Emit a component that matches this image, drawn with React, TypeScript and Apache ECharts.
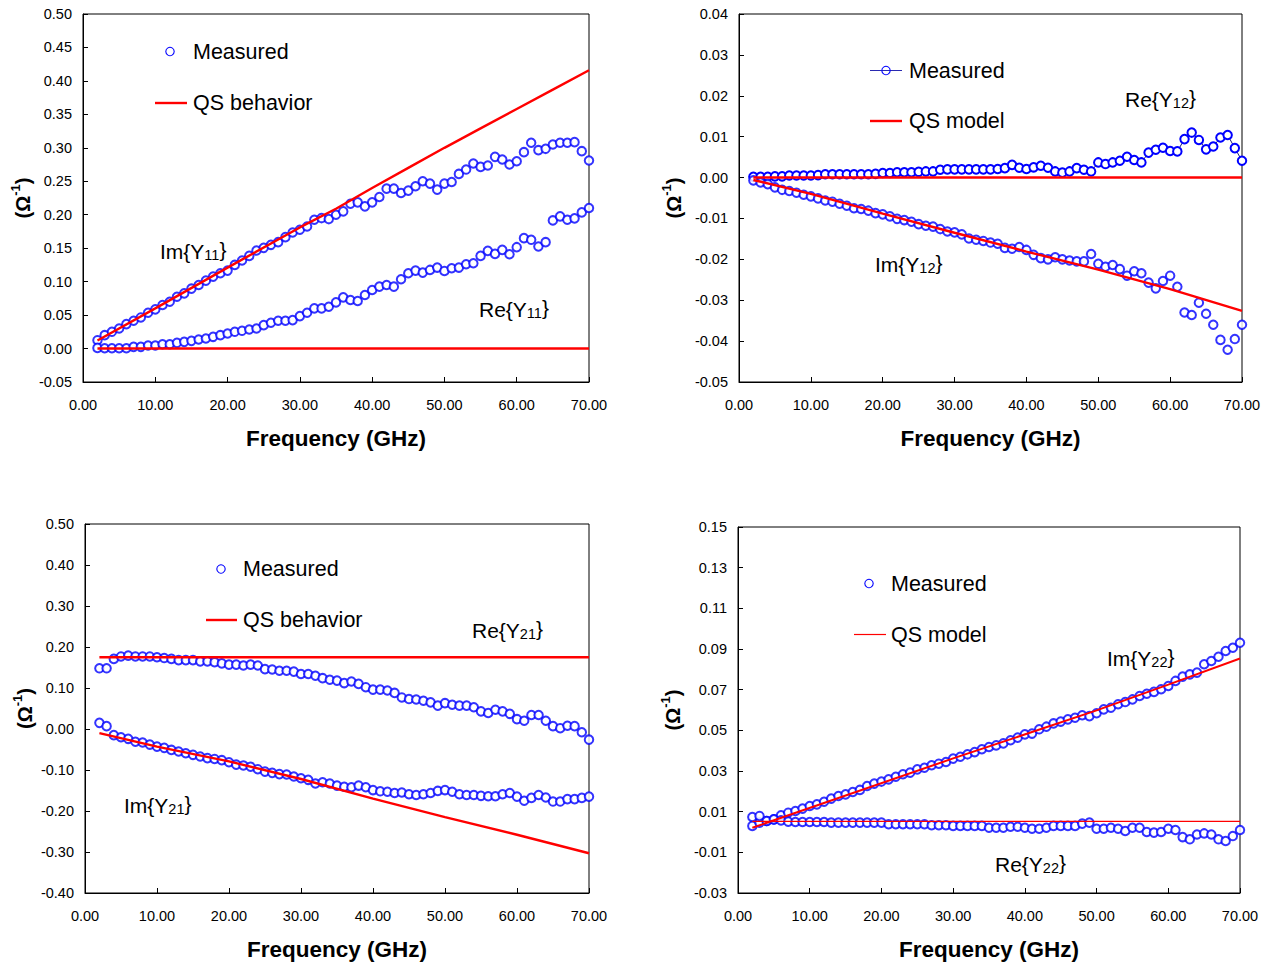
import React, { useEffect, useRef } from "react";
import * as echarts from "echarts";

const freq = [2,3,4,5,6,7,8,9,10,11,12,13,14,15,16,17,18,19,20,21,22,23,24,25,26,27,28,29,30,31,32,33,34,35,36,37,38,39,40,41,42,43,44,45,46,47,48,49,50,51,52,53,54,55,56,57,58,59,60,61,62,63,64,65,66,67,68,69,70];

// Y11
const im11 = [0.0125,0.020,0.025,0.030,0.0365,0.0415,0.0465,0.0535,0.0585,0.065,0.070,0.0775,0.0825,0.0895,0.095,0.1015,0.1075,0.1125,0.1165,0.125,0.1315,0.1385,0.1465,0.1505,0.155,0.159,0.1665,0.1735,0.1775,0.1825,0.1925,0.195,0.1935,0.200,0.205,0.2165,0.2185,0.2125,0.2185,0.2265,0.239,0.239,0.2325,0.236,0.2425,0.250,0.2465,0.2375,0.2465,0.249,0.261,0.2675,0.2765,0.2715,0.2735,0.2865,0.2825,0.275,0.280,0.2935,0.3075,0.2965,0.2985,0.305,0.3075,0.3075,0.3085,0.295,0.281];
const re11 = [0.001,0.0005,0.0005,0.0005,0.0005,0.0025,0.0025,0.0045,0.0045,0.0065,0.0065,0.0085,0.010,0.0115,0.0135,0.015,0.0175,0.020,0.0225,0.025,0.0265,0.0285,0.030,0.035,0.0385,0.0415,0.0415,0.0425,0.0485,0.0535,0.060,0.060,0.0625,0.069,0.0765,0.0725,0.071,0.080,0.0875,0.0925,0.095,0.0925,0.1035,0.1125,0.1165,0.1135,0.1175,0.121,0.116,0.120,0.121,0.126,0.1275,0.1385,0.146,0.1415,0.1475,0.141,0.1515,0.165,0.1625,0.1525,0.159,0.1915,0.1975,0.1925,0.1945,0.2035,0.210];
const qs11ImF = [2,10,20,30,35,40,45,50,55,60,65,70];
const qs11Im = [0.012,0.060,0.121,0.181,0.209,0.240,0.270,0.300,0.329,0.358,0.387,0.416];
const qs11ReF = [2,70];
const qs11Re = [0,0];

// Y12
const re12 = [0.0002,0.0002,0.0002,0.0003,0.0003,0.0005,0.0005,0.0005,0.0005,0.0006,0.0008,0.0008,0.0008,0.0008,0.0008,0.0008,0.0008,0.0009,0.0011,0.0011,0.0013,0.0013,0.0013,0.0014,0.0015,0.0015,0.0019,0.0020,0.0020,0.0020,0.0020,0.0020,0.0020,0.0020,0.0021,0.0023,0.0031,0.0024,0.0021,0.0025,0.0029,0.0024,0.0015,0.0012,0.0015,0.0023,0.0019,0.0015,0.0037,0.0033,0.0037,0.0041,0.0051,0.0043,0.0037,0.0061,0.0068,0.0073,0.0065,0.0064,0.0094,0.0110,0.0092,0.0069,0.0076,0.0098,0.0104,0.0072,0.0041];
const im12 = [-0.0007,-0.0012,-0.0016,-0.0024,-0.0030,-0.0033,-0.0037,-0.0042,-0.0046,-0.0051,-0.0056,-0.0059,-0.0064,-0.0069,-0.0075,-0.0077,-0.0081,-0.0087,-0.0090,-0.0095,-0.0101,-0.0104,-0.0108,-0.0114,-0.0118,-0.0120,-0.0126,-0.0132,-0.0134,-0.0139,-0.0149,-0.0152,-0.0155,-0.0159,-0.0162,-0.0172,-0.0174,-0.0170,-0.0177,-0.0189,-0.0197,-0.0200,-0.0195,-0.0200,-0.0203,-0.0205,-0.0205,-0.0187,-0.0211,-0.0218,-0.0214,-0.0224,-0.0240,-0.0229,-0.0234,-0.0257,-0.0271,-0.0253,-0.0240,-0.0267,-0.0330,-0.0336,-0.0306,-0.0333,-0.0360,-0.0397,-0.0421,-0.0395,-0.0360];
const qs12ImF = [2,10,20,30,40,50,60,70];
const qs12Im = [-0.0006,-0.0040,-0.0088,-0.0135,-0.0181,-0.0225,-0.0273,-0.0326];
const qs12ReF = [2,70];
const qs12Re = [0,0];

// Y21
const re21 = [0.148,0.148,0.171,0.177,0.179,0.177,0.177,0.177,0.175,0.173,0.171,0.168,0.168,0.168,0.165,0.165,0.163,0.160,0.157,0.157,0.155,0.157,0.155,0.146,0.145,0.142,0.142,0.140,0.134,0.134,0.130,0.124,0.120,0.118,0.112,0.116,0.110,0.102,0.096,0.096,0.094,0.088,0.077,0.073,0.072,0.069,0.065,0.057,0.063,0.059,0.057,0.057,0.053,0.043,0.039,0.047,0.043,0.037,0.024,0.020,0.034,0.034,0.020,0.007,0.002,0.008,0.007,-0.008,-0.026];
const im21 = [0.015,0.007,-0.015,-0.020,-0.024,-0.031,-0.033,-0.038,-0.043,-0.046,-0.051,-0.055,-0.059,-0.063,-0.067,-0.071,-0.073,-0.076,-0.081,-0.087,-0.089,-0.092,-0.098,-0.104,-0.107,-0.110,-0.111,-0.116,-0.120,-0.124,-0.133,-0.130,-0.133,-0.138,-0.141,-0.142,-0.138,-0.142,-0.149,-0.152,-0.153,-0.156,-0.155,-0.159,-0.161,-0.159,-0.156,-0.151,-0.149,-0.153,-0.159,-0.161,-0.161,-0.163,-0.164,-0.164,-0.159,-0.156,-0.165,-0.175,-0.168,-0.161,-0.167,-0.177,-0.177,-0.171,-0.171,-0.168,-0.165];
const qs21ImF = [2,10,20,30,40,50,60,70];
const qs21Im = [-0.010,-0.043,-0.079,-0.122,-0.170,-0.215,-0.258,-0.303];
const qs21ReF = [2,70];
const qs21Re = [0.175,0.175];

// Y22
const im22 = [0.0030,0.0046,0.0054,0.0062,0.0082,0.0095,0.0103,0.0115,0.0128,0.0136,0.0149,0.0164,0.0177,0.0185,0.0197,0.0207,0.0226,0.0238,0.0248,0.0259,0.0272,0.0284,0.0292,0.0308,0.0316,0.0328,0.0336,0.0344,0.0361,0.0370,0.0382,0.0393,0.0407,0.0418,0.0426,0.0436,0.0451,0.0464,0.0480,0.0484,0.0505,0.0518,0.0534,0.0543,0.0554,0.0562,0.0574,0.0570,0.0584,0.0603,0.0611,0.0628,0.0639,0.0652,0.0669,0.0680,0.0689,0.0702,0.0718,0.0743,0.0764,0.0775,0.0784,0.0825,0.0841,0.0862,0.0890,0.0906,0.0931];
const re22 = [0.0074,0.0079,0.0054,0.0062,0.0057,0.0051,0.0049,0.0049,0.0049,0.0049,0.0049,0.0046,0.0046,0.0046,0.0046,0.0046,0.0046,0.0046,0.0046,0.0038,0.0038,0.0038,0.0038,0.0038,0.0038,0.0033,0.0033,0.0033,0.0030,0.0030,0.0030,0.0030,0.0030,0.0021,0.0021,0.0021,0.0026,0.0026,0.0021,0.0016,0.0016,0.0021,0.0030,0.0030,0.0030,0.0030,0.0041,0.0046,0.0016,0.0016,0.0021,0.0016,0.0005,0.0021,0.0021,0.0000,-0.0003,0.0000,0.0016,0.0010,-0.0025,-0.0036,-0.0012,-0.0007,-0.0012,-0.0036,-0.0044,-0.0020,0.0010];
const qs22ImF = [2,30,50,60,70];
const qs22Im = [0.0021,0.0362,0.0598,0.0725,0.0853];
const qs22ReF = [2,70];
const qs22Re = [0.0052,0.0052];

const y4Ticks = [-0.03,-0.01,0.01,0.03,0.05,0.07,0.09,0.11,0.13,0.15];

const FONT = "'Liberation Sans', Arial, Helvetica, sans-serif";
const BLUE = "#0000ff";
const RED = "#ff0000";

const pairs = (xs: number[], ys: number[]) => xs.map((x, i) => [x, ys[i]]);

const grids = [
  { left: 83, top: 14, width: 506, height: 368 },
  { left: 739, top: 14, width: 503, height: 368 },
  { left: 85, top: 524, width: 504, height: 369 },
  { left: 738, top: 527, width: 502, height: 366 },
];

function xAxis(i: number) {
  return {
    type: "value",
    gridIndex: i,
    min: 0,
    max: 70,
    interval: 10,
    name: "Frequency (GHz)",
    nameLocation: "middle",
    nameGap: i < 2 ? 45 : 45,
    nameTextStyle: { fontFamily: FONT, fontWeight: "bold", fontSize: 22.5, color: "#000" },
    axisLine: { show: true, onZero: false, lineStyle: { color: "#000", width: 1 } },
    axisTick: { show: true, inside: true, length: 5, lineStyle: { color: "#000" } },
    axisLabel: {
      fontFamily: FONT, fontSize: 14.5, color: "#000", margin: 15,
      formatter: (v: number) => v.toFixed(2),
    },
    splitLine: { show: false },
  };
}

function yAxis(i: number, min: number, max: number, interval: number | null, custom?: number[]) {
  const ax: any = {
    type: "value",
    gridIndex: i,
    min,
    max,
    name: "{a|(Ω}{b|-1}{a|)}",
    nameLocation: "middle",
    nameRotate: 90,
    nameGap: i % 2 === 0 ? 50 : 55,
    nameTextStyle: {
      fontFamily: FONT, fontWeight: "bold", fontSize: 20, color: "#000",
      rich: {
        a: { fontFamily: FONT, fontWeight: "bold", fontSize: 20, color: "#000", lineHeight: 24, verticalAlign: "bottom" },
        b: { fontFamily: FONT, fontWeight: "bold", fontSize: 13, color: "#000", lineHeight: 24, verticalAlign: "top", padding: [0, 0, 6, 0] },
      },
    },
    axisLine: { show: true, onZero: false, lineStyle: { color: "#000", width: 1 } },
    axisTick: { show: true, inside: true, length: 5, lineStyle: { color: "#000" } },
    axisLabel: {
      fontFamily: FONT, fontSize: 14.5, color: "#000", margin: 11,
      formatter: (v: number) => v.toFixed(2),
    },
    splitLine: { show: false },
  };
  if (interval !== null) ax.interval = interval;
  if (custom) {
    ax.axisLabel.customValues = custom;
    ax.axisTick.customValues = custom;
  }
  return ax;
}

function measured(i: number, ys: number[], withLine = false) {
  return {
    type: withLine ? "line" : "scatter",
    xAxisIndex: i,
    yAxisIndex: i,
    data: pairs(freq, ys),
    symbol: "emptyCircle",
    symbolSize: 8.5,
    showSymbol: true,
    itemStyle: { color: BLUE, borderColor: BLUE, borderWidth: 1.1 },
    lineStyle: { color: "#1a1a70", width: 1 },
    z: 2,
  };
}

function qs(i: number, xs: number[], ys: number[], width = 2.4) {
  return {
    type: "line",
    xAxisIndex: i,
    yAxisIndex: i,
    data: pairs(xs, ys),
    showSymbol: false,
    symbol: "none",
    lineStyle: { color: RED, width },
    z: 3,
  };
}

function sub(x: number, y: number, main: string, s: string) {
  return {
    type: "text",
    x,
    y,
    style: {
      text: `{a|${main}{Y}{s|${s}}}`,
      fontFamily: FONT,
      fontSize: 21,
      fill: "#000",
      verticalAlign: "middle",
      rich: {
        a: { fontFamily: FONT, fontSize: 21, fill: "#000", lineHeight: 26, verticalAlign: "bottom" },
        s: { fontFamily: FONT, fontSize: 14.5, fill: "#000", lineHeight: 14, verticalAlign: "bottom" },
      },
    },
    z: 10,
  };
}

function label(x: number, y: number, t: string) {
  return {
    type: "text",
    x,
    y,
    style: { text: t, fontFamily: FONT, fontSize: 21.5, fill: "#000", verticalAlign: "middle" },
    z: 10,
  };
}

function circ(cx: number, cy: number) {
  return { type: "circle", shape: { cx, cy, r: 4.2 }, style: { fill: "none", stroke: BLUE, lineWidth: 1.1 }, z: 10 };
}

function seg(x1: number, x2: number, y: number, color: string, w: number) {
  return { type: "line", shape: { x1, y1: y, x2, y2: y }, style: { stroke: color, lineWidth: w }, z: 10 };
}

export default function App() {
  const ref = useRef<HTMLDivElement>(null);
  useEffect(() => {
    if (!ref.current) return;
    const chart = echarts.init(ref.current, null, { renderer: "svg" });
    const option: any = {
      animation: false,
      backgroundColor: "#fff",
      grid: grids.map((g) => ({ ...g, show: true, borderColor: "#000", borderWidth: 1, backgroundColor: "transparent" })),
      xAxis: [xAxis(0), xAxis(1), xAxis(2), xAxis(3)],
      yAxis: [
        yAxis(0, -0.05, 0.5, 0.05),
        yAxis(1, -0.05, 0.04, 0.01),
        yAxis(2, -0.4, 0.5, 0.1),
        yAxis(3, -0.03, 0.15, null, y4Ticks),
      ],
      series: [
        measured(0, im11),
        measured(0, re11),
        qs(0, qs11ImF, qs11Im),
        qs(0, qs11ReF, qs11Re),
        measured(1, re12, true),
        measured(1, im12),
        qs(1, qs12ImF, qs12Im),
        qs(1, qs12ReF, qs12Re),
        measured(2, re21),
        measured(2, im21),
        qs(2, qs21ImF, qs21Im),
        qs(2, qs21ReF, qs21Re),
        measured(3, im22),
        measured(3, re22),
        qs(3, qs22ImF, qs22Im, 2),
        qs(3, qs22ReF, qs22Re, 1.2),
      ],
      graphic: [
        circ(170, 51.5), label(193, 51.5, "Measured"),
        seg(155, 187, 103, RED, 2.4), label(193, 103, "QS behavior"),
        sub(160, 249, "Im", "11"), sub(479, 307, "Re", "11"),
        seg(870, 902, 70.5, "#2a2ab0", 1), circ(886, 70.5), label(909, 70.5, "Measured"),
        seg(870, 902, 121, RED, 2.4), label(909, 121, "QS model"),
        sub(1125, 97, "Re", "12"), sub(875, 262, "Im", "12"),
        circ(221, 569), label(243, 569, "Measured"),
        seg(206, 237, 620, RED, 2.4), label(243, 620, "QS behavior"),
        sub(472, 628, "Re", "21"), sub(124, 803, "Im", "21"),
        circ(869, 583.5), label(891, 583.5, "Measured"),
        seg(854, 886, 634.5, RED, 1.2), label(891, 634.5, "QS model"),
        sub(1107, 656, "Im", "22"), sub(995, 862, "Re", "22"),
      ],
    };
    chart.setOption(option);
    return () => chart.dispose();
  }, []);
  return (
    <div
      ref={ref}
      style={{ position: "absolute", left: 0, top: 0, width: 1273, height: 967, background: "#fff" }}
    />
  );
}
